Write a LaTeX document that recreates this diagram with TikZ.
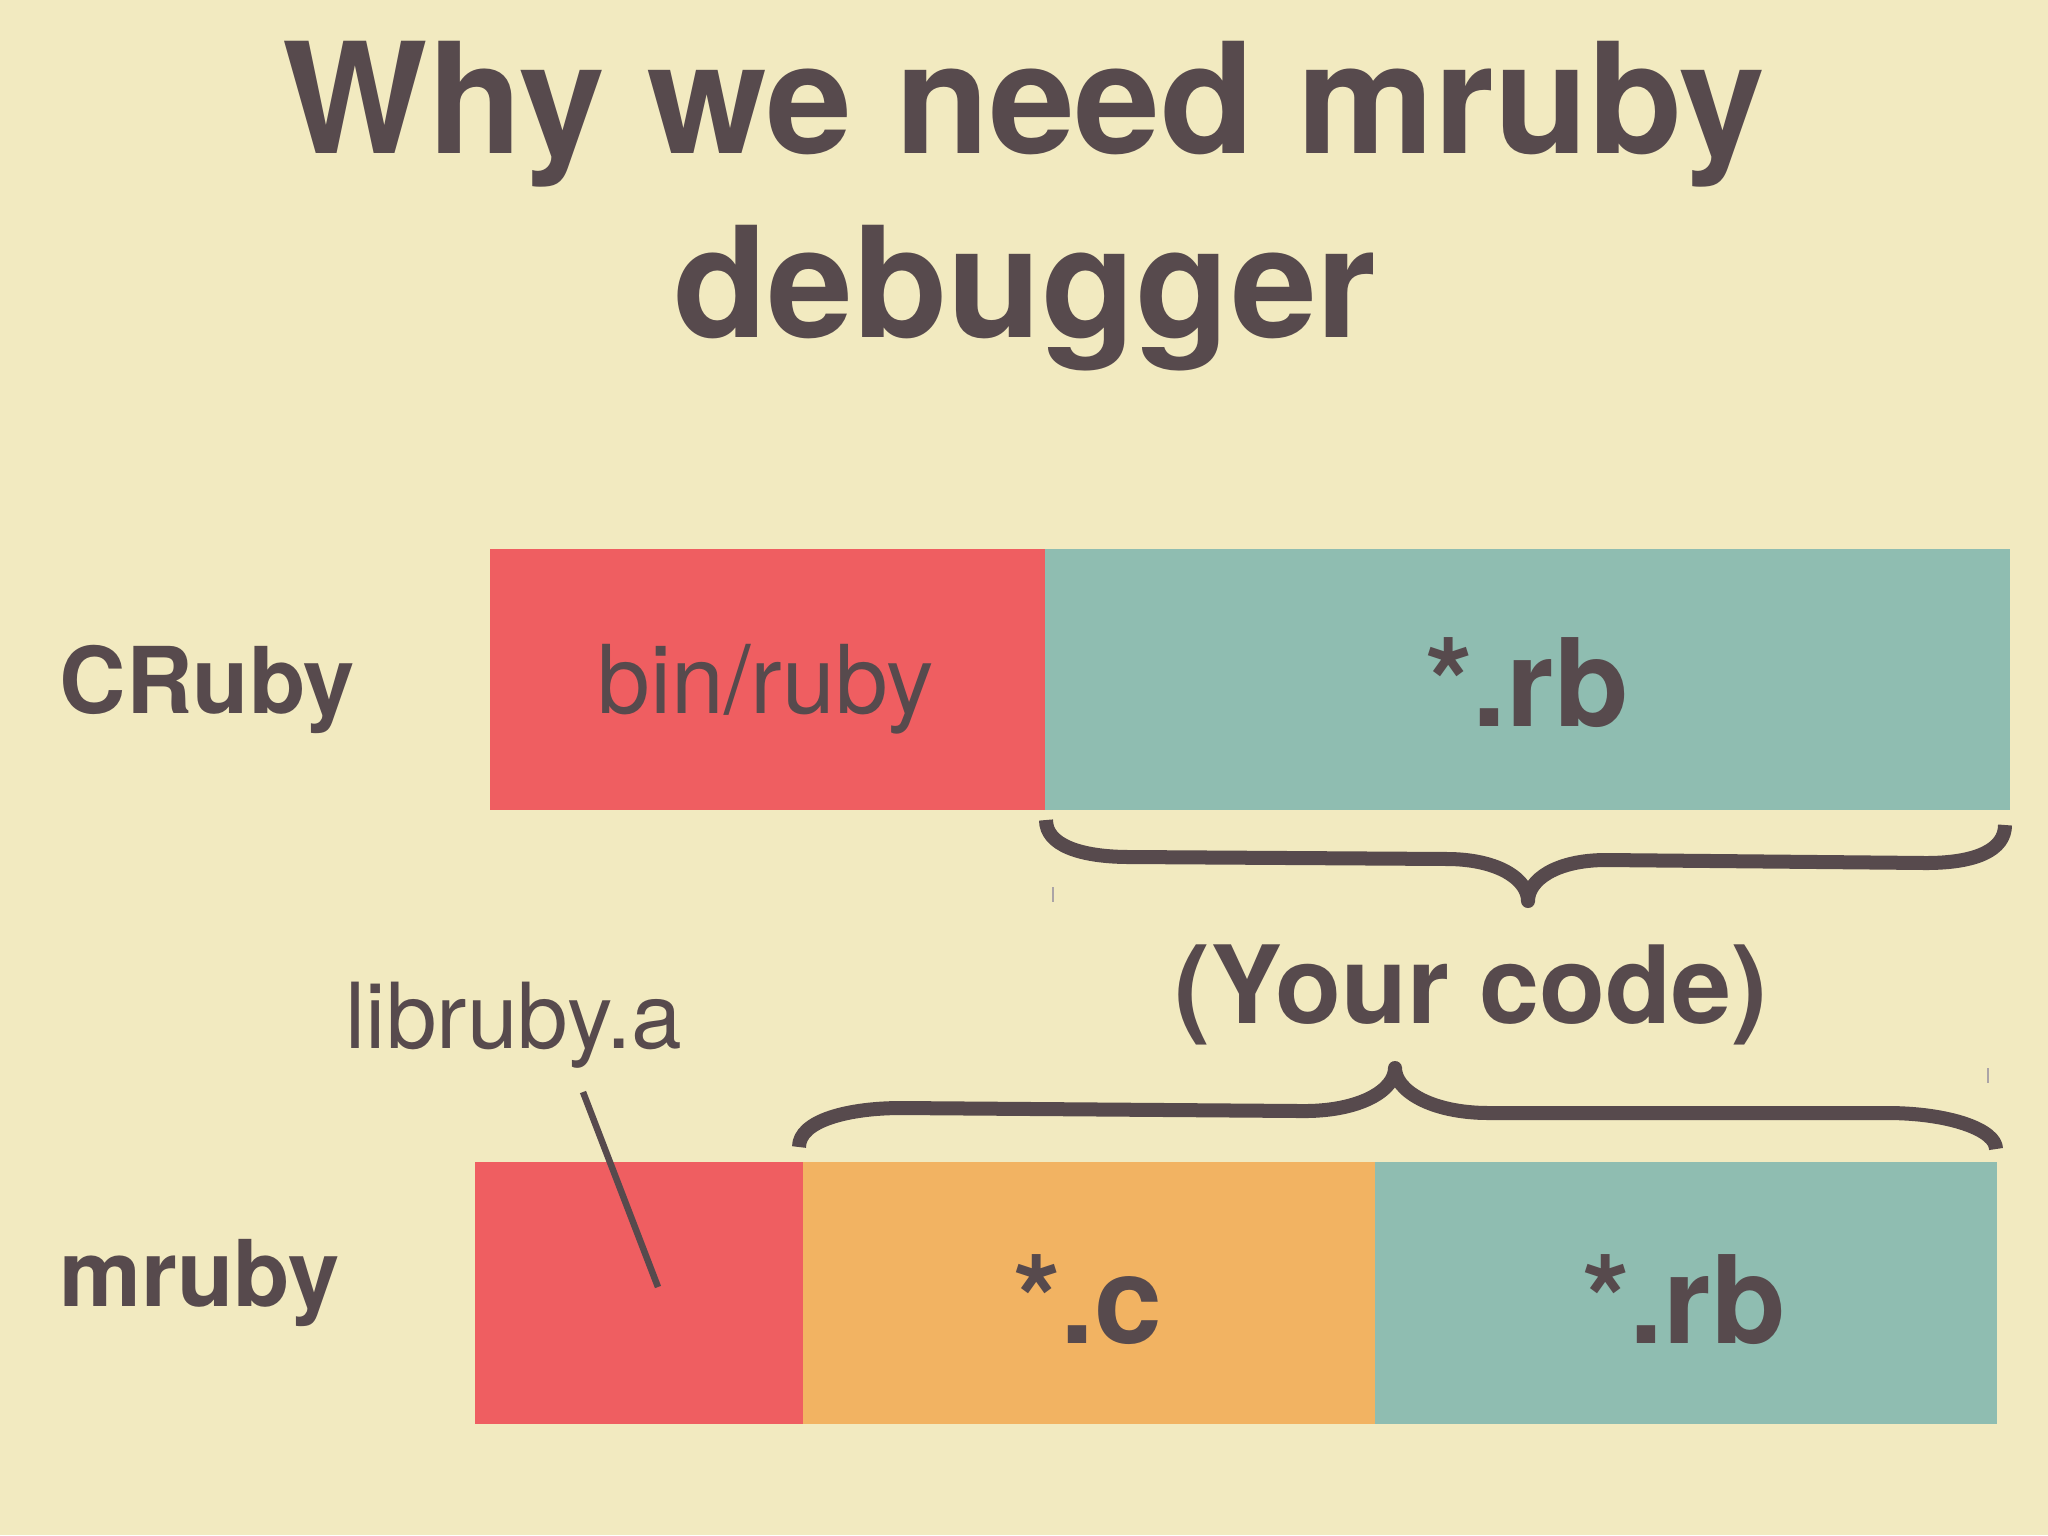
\documentclass[tikz,border=0pt]{standalone}
\usepackage{fontspec}
\setmainfont{TeX Gyre Heros}
\usepackage{xcolor}
\usetikzlibrary{positioning}
\definecolor{paper}{HTML}{F2EAC0}
\definecolor{ink}{HTML}{574A4D}
\definecolor{binred}{HTML}{EF5E61}
\definecolor{rbteal}{HTML}{8FBDB1}
\definecolor{corange}{HTML}{F2B362}

\begin{document}
\begin{tikzpicture}[x=0.01cm, y=-0.01cm]

	\tikzstyle{heading}=[ink, inner sep=0pt, anchor=base, font=\bfseries\fontsize{43.8}{52}\selectfont]
	\tikzstyle{rowname}=[ink, inner sep=0pt, anchor=base west, font=\bfseries\fontsize{26.2}{30}\selectfont]
	\tikzstyle{plain}=[ink, inner sep=0pt, anchor=base, font=\fontsize{27}{30}\selectfont]
	\tikzstyle{big}=[ink, inner sep=0pt, anchor=base, font=\bfseries\fontsize{34.7}{40}\selectfont]
	\tikzstyle{bar}=[rectangle, inner sep=0pt, outer sep=0pt]
	\tikzstyle{brace}=[draw=ink, line width=0.14cm, line join=round]
	\tikzstyle{pointer}=[draw=ink, line width=0.065cm]
	\tikzstyle{tick}=[draw=ink!50, line width=0.02cm]

	% fond
	\fill[paper] (0,0) rectangle (2048,1535);
	\useasboundingbox (0,0) rectangle (2048,1535);

	% titre
	\node[heading] (title1) at (1024,153) {Why we need mruby};
	\node[heading] (title2) at (1025,337) {debugger};

	% CRuby
	\node[rowname] (cruby) at (59,713) {CRuby};
	\node[bar, fill=binred, anchor=north west, minimum width=5.55cm, minimum height=2.61cm] (cbin) at (490,549) {};
	\node[bar, fill=rbteal, minimum width=9.64cm, minimum height=2.61cm, right=0cm of cbin] (crb) {};
	\node[plain] (binlbl) at (766,713) {bin/ruby};
	\node[big] (crblbl) at (1527,726) {*.rb};

	% mruby
	\node[rowname] (mruby) at (59,1306) {mruby};
	\node[bar, fill=binred, anchor=north west, minimum width=3.28cm, minimum height=2.62cm] (mlib) at (475,1162) {};
	\node[bar, fill=corange, minimum width=5.71cm, minimum height=2.62cm, right=0cm of mlib] (mc) {};
	\node[bar, fill=rbteal, minimum width=6.22cm, minimum height=2.62cm, right=0cm of mc] (mrb) {};
	\node[big] (mclbl) at (1088,1343) {*.c};
	\node[big] (mrblbl) at (1684,1343) {*.rb};

	% libruby.a
	\node[plain, anchor=base west, font=\fontsize{25.9}{30}\selectfont] (libruby) at (345,1048) {libruby.a};
	\coordinate (libtop) at (583,1092);
	\coordinate (libend) at (658,1287);
	\draw[pointer] (libtop) -- (libend);

	% accolades
	\draw[brace] (1046,820) .. controls (1046,845) and (1080,857) .. (1130,857) -- (1450,859)
		.. controls (1500,860) and (1528,880) .. (1528,901)
		.. controls (1528,880) and (1556,860) .. (1606,860) -- (1926,863)
		.. controls (1976,863) and (2005,850) .. (2005,825);
	\draw[brace] (799,1147) .. controls (799,1120) and (850,1108) .. (901,1108) -- (1300,1111)
		.. controls (1360,1112) and (1395,1090) .. (1395,1068)
		.. controls (1395,1090) and (1430,1113) .. (1489,1113) -- (1887,1113)
		.. controls (1950,1113) and (1996,1130) .. (1996,1149);
	\node[big, font=\bfseries\fontsize{30.7}{36}\selectfont] (yourcode) at (1471,1023) {(Your code)};
	\draw[tick] (1053,887) -- (1053,902);
	\draw[tick] (1988,1068) -- (1988,1083);

\end{tikzpicture}
\end{document}
